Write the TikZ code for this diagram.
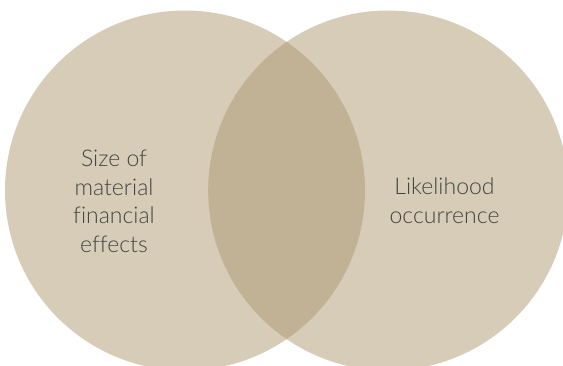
\documentclass[tikz,border=0pt]{standalone}
\usepackage{fontspec}
\setmainfont{Lato Light}[Ligatures=NoCommon]
\definecolor{circfill}{HTML}{D6CCB8}
\definecolor{lensfill}{HTML}{C1B195}
\definecolor{txt}{HTML}{45443F}
\begin{document}
\begin{tikzpicture}[x=1pt,y=1pt,
  lbl/.style={text=txt,align=center,font=\fontsize{23}{28.7}\selectfont}]
\useasboundingbox (0,0) rectangle (563,365);
\clip (0,0) rectangle (563,365);
\fill[circfill] (185,174.5) circle[radius=180];
\fill[circfill] (388.2,174.5) circle[radius=180];
\begin{scope}
\clip (185,174.5) circle[radius=180];
\fill[lensfill] (388.2,174.5) circle[radius=180];
\end{scope}
\node[lbl] (left) at (114,163.5) {Size of\\material\\financial\\effects};
\node[lbl] (right) at (444.5,164) {Likelihood\\occurrence};
\end{tikzpicture}
\end{document}
